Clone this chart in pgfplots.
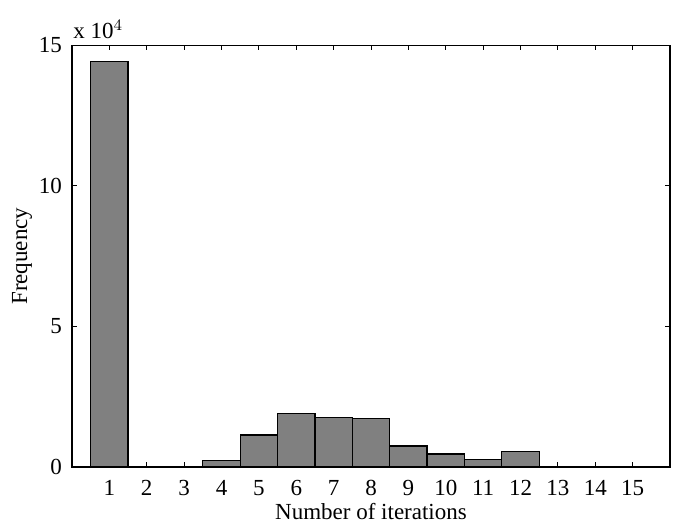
\documentclass[border=0pt]{standalone}
\usepackage{pgfplots}
\pgfplotsset{compat=1.18}
\usepackage{fontspec}
\setmainfont{Liberation Serif}
\begin{document}
\fontsize{11.5}{13}\selectfont
\begin{tikzpicture}
\useasboundingbox (-36pt,-29.5pt) rectangle (306.5pt,233.5pt);
\begin{axis}[
  at={(0pt,0pt)}, anchor=south west,
  scale only axis,
  width=299pt, height=210.8pt,
  xmin=0, xmax=16, ymin=0, ymax=15,
  xtick={1,...,15}, ytick={0,5,10,15},
  tick align=inside,
  major tick length=2.5pt,
  axis line style={line width=0.6pt},
  tick style={line width=0.5pt, black},
  /pgf/number format/assume math mode=true,
  xlabel={Number of iterations},
  ylabel={Frequency},
  xticklabel style={yshift=-2.5pt},
  yticklabel style={xshift=-1pt},
  xlabel style={yshift=4pt},
  ylabel style={yshift=-4.5pt},
  tick label style={font=\fontsize{11.5}{13}\selectfont},
  label style={font=\fontsize{11.5}{13}\selectfont},
  clip=false,
]
\addplot[ybar, bar width=1, bar shift=0pt, fill=black!50, draw=black, line width=0.6pt] coordinates {
  (1,14.42) (4,0.24) (5,1.14) (6,1.89) (7,1.75) (8,1.74) (9,0.75) (10,0.46) (11,0.26) (12,0.55)
};
\node[anchor=south west, inner sep=0pt, xshift=0.5pt, yshift=3pt, font=\fontsize{11.5}{13}\selectfont] at (rel axis cs:0,1) {x 10$^{4}$};
\end{axis}
\end{tikzpicture}
\end{document}
